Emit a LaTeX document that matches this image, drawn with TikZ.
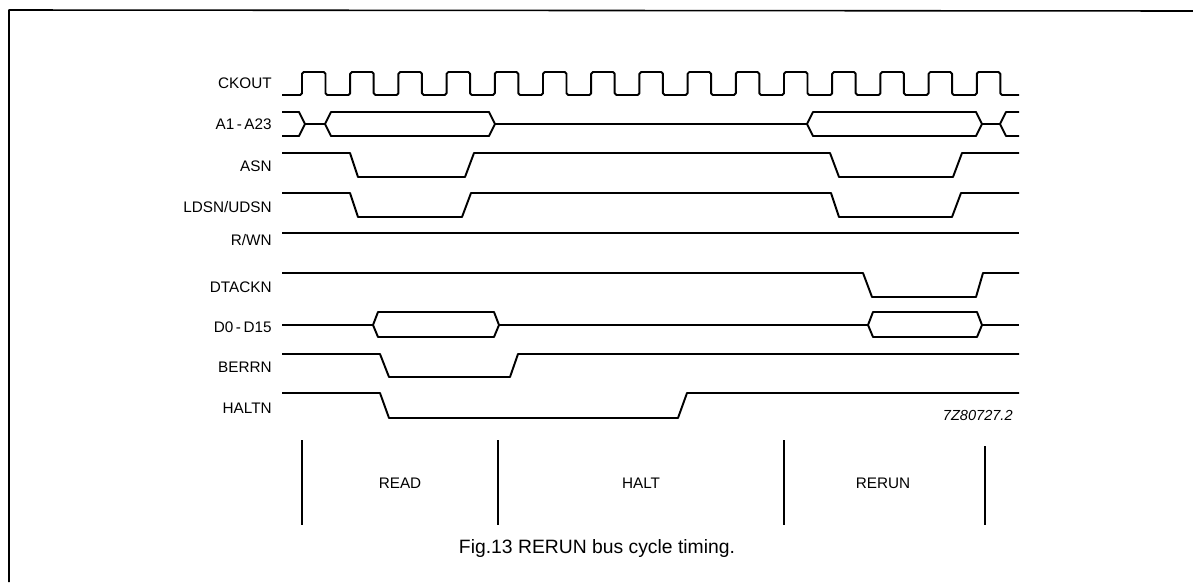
\documentclass[tikz,border=0pt]{standalone}
\usepackage{fontspec}
\setmainfont{Liberation Sans}

\begin{document}
\begin{tikzpicture}[x=0.02cm,y=-0.02cm,line join=round,
  every node/.style={font=\fontsize{8.7}{10}\selectfont,inner sep=0pt},
  sig/.style={line width=1.1pt},
  lbl/.style={anchor=east},
  phase/.style={line width=0.6pt}]
\useasboundingbox (0,0) rectangle (1193,582);
\draw[line width=0.9pt] (9,582)--(9,10)--(1193,11);

% signal names
\node[lbl] (ck) at (272,83) {CKOUT};
\node[lbl] (ad) at (272,124) {A1\,-\,A23};
\node[lbl] (as) at (272,166) {ASN};
\node[lbl] (ds) at (272,207) {LDSN/UDSN};
\node[lbl] (rw) at (272,240) {R/WN};
\node[lbl] (dt) at (272,287) {DTACKN};
\node[lbl] (da) at (272,327) {D0\,-\,D15};
\node[lbl] (be) at (272,367) {BERRN};
\node[lbl] (ha) at (272,408) {HALTN};

% clock
\draw[sig,rounded corners=1pt] (282,95) \foreach \k in {0,...,14}{
  -- ({302+48.2*\k},95) -- ({302+48.2*\k},72) -- ({325.5+48.2*\k},72) -- ({325.5+48.2*\k},95)}
  -- (1019,95);

% address bus
\draw[sig] (282,112)--(299,112)--(305,124)--(299,136)--(282,136);
\draw[sig] (305,124)--(325,124);
\draw[sig] (325,124)--(331,112)--(489,112)--(495,124)--(489,136)--(331,136)--cycle;
\draw[sig] (495,124)--(807,124);
\draw[sig] (807,124)--(813,112)--(976,112)--(982,124)--(976,136)--(813,136)--cycle;
\draw[sig] (982,124)--(1000,124);
\draw[sig] (1019,112)--(1006,112)--(1000,124)--(1006,136)--(1019,136);

% strobes
\draw[sig] (282,153)--(350,153)--(358,177)--(465,177)--(474,153)--(830,153)--(839,177)--(953,177)--(962,153)--(1019,153);
\draw[sig] (282,193)--(350,193)--(358,217)--(462,217)--(471,193)--(831,193)--(839,217)--(952,217)--(961,193)--(1019,193);
\draw[sig] (282,233)--(1019,233);
\draw[sig] (282,273)--(863,273)--(872,297)--(976,297)--(983,273)--(1019,273);

% data bus
\draw[sig] (282,325)--(373,325);
\draw[sig] (373,325)--(378,312)--(494,312)--(499,325)--(494,337)--(378,337)--cycle;
\draw[sig] (499,325)--(868,325);
\draw[sig] (868,325)--(873,312)--(977,312)--(982,325)--(977,337)--(873,337)--cycle;
\draw[sig] (982,325)--(1019,325);

\draw[sig] (282,354)--(380,354)--(389,377)--(510,377)--(518,354)--(1019,354);
\draw[sig] (282,393)--(380,393)--(389,418)--(678,418)--(687,393)--(1019,393);

\node[anchor=east,font=\fontsize{8.3}{10}\selectfont\itshape] (ref) at (1013,415) {7Z80727.2};

% cycles
\draw[phase] (302,440)--(302,525);
\draw[phase] (498,440)--(498,525);
\draw[phase] (784,440)--(784,525);
\draw[phase] (985,446)--(985,525);
\node (rd) at (400,483) {READ};
\node (hl) at (641,483) {HALT};
\node (rr) at (883,483) {RERUN};

\node[font=\fontsize{11}{13}\selectfont] (cap) at (597,548) {Fig.13 RERUN bus cycle timing.};
\end{tikzpicture}
\end{document}
